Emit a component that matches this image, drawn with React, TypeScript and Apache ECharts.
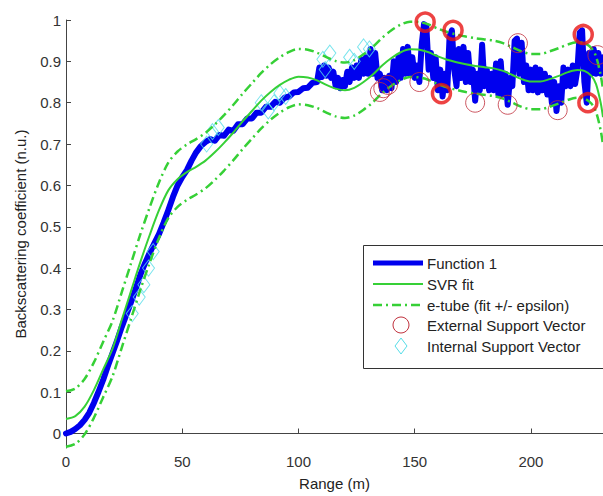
import React, { useEffect, useRef } from "react";
import * as echarts from "echarts";

const Y_TICKS = [0, 0.1, 0.2, 0.3, 0.4, 0.5, 0.6, 0.7, 0.8, 0.9, 1];
const X_TICKS = [0, 50, 100, 150, 200];

// Function 1 (measured backscattering)
const F1_RANGE = [
  0, 2, 4, 6, 8, 10, 12, 14, 16, 18, 20, 22, 24, 26, 28, 30, 32, 34, 36, 38,
  40, 42, 44, 46, 48, 50, 52, 54, 56, 58, 60, 62, 64, 66, 68, 70, 72, 74, 76, 78,
  80, 82, 84, 86, 88, 90, 92, 94, 96, 98, 100, 102, 104, 106, 108,
  109, 110, 111, 112, 113, 114, 115, 116, 117, 118,
  119, 120, 121, 122, 123, 124, 125, 126, 127, 128,
  129, 130, 131, 132, 133, 134, 135, 136, 137, 138,
  139, 140, 141, 142, 143, 144, 145, 146, 147, 148,
  149, 150, 151, 152, 153, 154, 155, 156, 157, 158,
  159, 160, 161, 162, 163, 164, 165, 166, 167, 168,
  169, 170, 171, 172, 173, 174, 175, 176, 177, 178,
  179, 180, 181, 182, 183, 184, 185, 186, 187, 188,
  189, 190, 191, 192, 193, 194, 195, 196, 197, 198,
  199, 200, 201, 202, 203, 204, 205, 206, 207, 208,
  209, 210, 211, 212, 213, 214, 215, 216, 217, 218,
  219, 220, 221, 222, 223, 224, 225, 226, 227, 228,
  229, 230, 231,
];
const F1_VALUES = [
  0.0, 0.004, 0.011, 0.02, 0.033, 0.05, 0.074, 0.101, 0.13, 0.163, 0.194, 0.225, 0.258, 0.288, 0.318, 0.35, 0.384, 0.412, 0.437, 0.46,
  0.482, 0.51, 0.54, 0.572, 0.6, 0.62, 0.637, 0.66, 0.68, 0.695, 0.705, 0.712, 0.708, 0.722, 0.72, 0.735, 0.732, 0.748, 0.748, 0.762,
  0.762, 0.776, 0.776, 0.79, 0.79, 0.802, 0.8, 0.812, 0.815, 0.825, 0.826, 0.835, 0.836, 0.848, 0.85,
  0.885, 0.862, 0.89, 0.865, 0.885, 0.86, 0.875, 0.84, 0.86, 0.835,
  0.855, 0.84, 0.875, 0.85, 0.885, 0.86, 0.89, 0.86, 0.905, 0.87,
  0.91, 0.87, 0.93, 0.87, 0.92, 0.86, 0.87, 0.83, 0.86, 0.83,
  0.865, 0.835, 0.9, 0.85, 0.91, 0.86, 0.93, 0.87, 0.935, 0.87,
  0.91, 0.86, 0.89, 0.85, 0.94, 0.99, 0.985, 0.88, 0.92, 0.86,
  0.91, 0.83, 0.88, 0.815, 0.87, 0.83, 0.96, 0.975, 0.88, 0.84,
  0.93, 0.86, 0.935, 0.85, 0.92, 0.85, 0.88, 0.805, 0.87, 0.83,
  0.94, 0.84, 0.88, 0.83, 0.87, 0.83, 0.895, 0.82, 0.9, 0.82,
  0.87, 0.795, 0.86, 0.84, 0.95, 0.955, 0.87, 0.945, 0.85, 0.89,
  0.83, 0.88, 0.83, 0.885, 0.825, 0.88, 0.83, 0.87, 0.82, 0.86,
  0.8, 0.85, 0.78, 0.84, 0.8, 0.885, 0.84, 0.88, 0.84, 0.89,
  0.845, 0.88, 0.97, 0.975, 0.85, 0.8, 0.92, 0.87, 0.93, 0.87,
  0.92, 0.87, 0.91,
];

// SVR fit and e-tube
const FIT_RANGE = [
  0, 4, 8, 12, 16, 20, 24, 28, 32, 36, 40, 44, 48, 52, 56, 60, 64, 68, 72, 76,
  80, 84, 88, 92, 96, 100, 104, 108, 112, 116, 120, 124, 128, 132, 136, 140, 144, 148, 152, 156,
  160, 164, 168, 172, 176, 180, 184, 188, 192, 196, 200, 204, 208, 212, 216, 220, 223, 226, 228, 230, 231,
];
const FIT_VALUES = [
  0.035, 0.042, 0.065, 0.105, 0.155, 0.205, 0.275, 0.345, 0.415, 0.48, 0.54, 0.588, 0.615, 0.632, 0.645, 0.66, 0.68, 0.703, 0.728, 0.755,
  0.78, 0.805, 0.826, 0.843, 0.856, 0.863, 0.861, 0.854, 0.843, 0.834, 0.83, 0.836, 0.85, 0.868, 0.89, 0.908, 0.922, 0.929, 0.928, 0.922,
  0.912, 0.904, 0.898, 0.893, 0.889, 0.886, 0.883, 0.877, 0.867, 0.857, 0.851, 0.851, 0.857, 0.865, 0.874, 0.879, 0.877, 0.865, 0.845, 0.8, 0.765,
];
const TUBE_UPPER = [
  0.102, 0.109, 0.132, 0.172, 0.222, 0.272, 0.342, 0.412, 0.482, 0.547, 0.607, 0.655, 0.682, 0.699, 0.712, 0.727, 0.747, 0.77, 0.795, 0.822,
  0.847, 0.872, 0.893, 0.91, 0.923, 0.93, 0.928, 0.921, 0.91, 0.901, 0.897, 0.903, 0.917, 0.935, 0.957, 0.975, 0.989, 0.996, 0.995, 0.989,
  0.979, 0.971, 0.965, 0.96, 0.956, 0.953, 0.95, 0.944, 0.934, 0.924, 0.918, 0.918, 0.924, 0.932, 0.941, 0.946, 0.944, 0.932, 0.912, 0.867, 0.832,
];
const TUBE_LOWER = [
  -0.032, -0.025, -0.002, 0.038, 0.088, 0.138, 0.208, 0.278, 0.348, 0.413, 0.473, 0.521, 0.548, 0.565, 0.578, 0.593, 0.613, 0.636, 0.661, 0.688,
  0.713, 0.738, 0.759, 0.776, 0.789, 0.796, 0.794, 0.787, 0.776, 0.767, 0.763, 0.769, 0.783, 0.801, 0.823, 0.841, 0.855, 0.862, 0.861, 0.855,
  0.845, 0.837, 0.831, 0.826, 0.822, 0.819, 0.816, 0.81, 0.8, 0.79, 0.784, 0.784, 0.79, 0.798, 0.807, 0.812, 0.81, 0.798, 0.778, 0.733, 0.698,
];

// External support vectors (single and repeated)
const EXT_SV_RANGE = [135, 136.5, 138.5, 152, 176, 190, 194.4, 211.5, 228.6];
const EXT_SV_VALUES = [0.826, 0.835, 0.843, 0.85, 0.8, 0.795, 0.944, 0.782, 0.915];
const EXT_SV_REP_RANGE = [154.5, 161.5, 166.5, 222.5, 224.5];
const EXT_SV_REP_VALUES = [0.995, 0.822, 0.975, 0.965, 0.8];

// Internal support vectors
const INT_SV_RANGE = [28.5, 31.5, 33.5, 35.5, 37.5, 60.5, 63, 65.5, 84, 87, 89.5, 92, 94.5, 110.5, 111.5, 113.5, 122, 124, 128, 130.5];
const INT_SV_VALUES = [0.29, 0.33, 0.36, 0.4, 0.44, 0.7, 0.73, 0.74, 0.8, 0.78, 0.8, 0.823, 0.815, 0.905, 0.88, 0.92, 0.91, 0.9, 0.935, 0.93];

const LEGEND_LABELS = [
  "Function 1",
  "SVR fit",
  "e-tube (fit +/- epsilon)",
  "External Support Vector",
  "Internal Support Vector",
];

const FONT = "'Liberation Sans', Arial, sans-serif";
const BLUE = "#0000ee";
const GREEN = "#36d036";
const CYAN = "#55dde8";
const RED_THIN = "#c0303c";
const RED_THICK = "#e81414";
const DASHDOT = [9, 4, 2, 4];

function zip(xs: number[], ys: number[]) {
  return xs.map((x, i) => [x, ys[i]]);
}

export default function App() {
  const ref = useRef<HTMLDivElement>(null);
  useEffect(() => {
    if (!ref.current) return;
    const chart = echarts.init(ref.current, undefined, { renderer: "svg" });
    const legendX = 363;
    const legendY = 245;
    const rowY = [263, 284, 305, 325, 346];
    const lx1 = 373;
    const lx2 = 423;
    const mx = 401;
    const tx = 427;
    const legendGraphics: any[] = [
      {
        type: "rect",
        shape: { x: legendX + 0.5, y: legendY + 0.5, width: 260, height: 123 },
        style: { fill: "#fff", stroke: "#333", lineWidth: 1 },
        z: 100,
      },
      { type: "line", shape: { x1: lx1, y1: rowY[0], x2: lx2, y2: rowY[0] }, style: { stroke: BLUE, lineWidth: 5 }, z: 101 },
      { type: "line", shape: { x1: lx1, y1: rowY[1], x2: lx2, y2: rowY[1] }, style: { stroke: GREEN, lineWidth: 2 }, z: 101 },
      { type: "line", shape: { x1: lx1, y1: rowY[2], x2: lx2, y2: rowY[2] }, style: { stroke: GREEN, lineWidth: 2.5, lineDash: DASHDOT }, z: 101 },
      { type: "circle", shape: { cx: mx, cy: rowY[3], r: 8 }, style: { fill: "none", stroke: RED_THIN, lineWidth: 1 }, z: 101 },
      {
        type: "polygon",
        shape: { points: [[mx, rowY[4] - 8], [mx + 6, rowY[4]], [mx, rowY[4] + 8], [mx - 6, rowY[4]]] },
        style: { fill: "none", stroke: CYAN, lineWidth: 1 },
        z: 101,
      },
      ...LEGEND_LABELS.map((t, i) => ({
        type: "text",
        x: tx,
        y: rowY[i],
        style: { text: t, fontSize: 15, fontFamily: FONT, fill: "#222", verticalAlign: "middle", align: "left" },
        z: 101,
      })),
    ];

    chart.setOption({
      animation: false,
      backgroundColor: "#fff",
      grid: { left: 66, right: 0, top: 20, bottom: 48, containLabel: false },
      xAxis: {
        type: "value",
        min: 0,
        max: 231,
        name: "Range (m)",
        nameLocation: "middle",
        nameGap: 28,
        nameTextStyle: { fontSize: 15, fontFamily: FONT, color: "#222" },
        axisLine: { show: true, lineStyle: { color: "#444", width: 1 } },
        axisTick: { show: true, inside: true, length: 5, customValues: X_TICKS, lineStyle: { color: "#444" } },
        axisLabel: { customValues: X_TICKS, fontSize: 15, fontFamily: FONT, color: "#333", margin: 6 },
        splitLine: { show: false },
      },
      yAxis: {
        type: "value",
        min: -0.035,
        max: 1,
        name: "Backscattering coefficient (n.u.)",
        nameLocation: "middle",
        nameGap: 38,
        nameTextStyle: { fontSize: 15, fontFamily: FONT, color: "#222" },
        axisLine: { show: true, onZero: false, lineStyle: { color: "#444", width: 1 } },
        axisTick: { show: true, inside: true, length: 5, customValues: Y_TICKS, lineStyle: { color: "#444" } },
        axisLabel: { customValues: Y_TICKS, fontSize: 15, fontFamily: FONT, color: "#333", margin: 5 },
        splitLine: { show: false },
      },
      series: [
        {
          name: "Function 1",
          type: "line",
          data: zip(F1_RANGE, F1_VALUES),
          showSymbol: false,
          symbol: "none",
          lineStyle: { color: BLUE, width: 6, join: "round", cap: "round" },
          z: 1,
        },
        {
          name: "Internal Support Vector",
          type: "scatter",
          data: zip(INT_SV_RANGE, INT_SV_VALUES),
          symbol: "diamond",
          symbolSize: [12, 16],
          itemStyle: { color: "rgba(0,0,0,0)", borderColor: CYAN, borderWidth: 1 },
          z: 2,
        },
        {
          name: "SVR fit",
          type: "line",
          data: zip(FIT_RANGE, FIT_VALUES),
          showSymbol: false,
          symbol: "none",
          smooth: 0.3,
          lineStyle: { color: GREEN, width: 2 },
          z: 3,
        },
        {
          name: "e-tube upper",
          type: "line",
          data: zip(FIT_RANGE, TUBE_UPPER),
          showSymbol: false,
          symbol: "none",
          smooth: 0.3,
          lineStyle: { color: GREEN, width: 2.5, type: DASHDOT },
          z: 3,
        },
        {
          name: "e-tube lower",
          type: "line",
          data: zip(FIT_RANGE, TUBE_LOWER),
          showSymbol: false,
          symbol: "none",
          smooth: 0.3,
          lineStyle: { color: GREEN, width: 2.5, type: DASHDOT },
          z: 3,
        },
        {
          name: "External Support Vector",
          type: "scatter",
          data: zip(EXT_SV_RANGE, EXT_SV_VALUES),
          symbol: "circle",
          symbolSize: 19,
          itemStyle: { color: "rgba(0,0,0,0)", borderColor: RED_THIN, borderWidth: 1 },
          z: 4,
        },
        {
          name: "External Support Vector (repeated)",
          type: "scatter",
          data: zip(EXT_SV_REP_RANGE, EXT_SV_REP_VALUES),
          symbol: "circle",
          symbolSize: 18,
          itemStyle: { color: "rgba(0,0,0,0)", borderColor: RED_THICK, borderWidth: 3.5 },
          z: 4,
        },
      ],
      graphic: legendGraphics,
    });
    return () => chart.dispose();
  }, []);
  return <div ref={ref} style={{ position: "fixed", left: 0, top: 0, width: 603, height: 496, background: "#fff" }} />;
}
